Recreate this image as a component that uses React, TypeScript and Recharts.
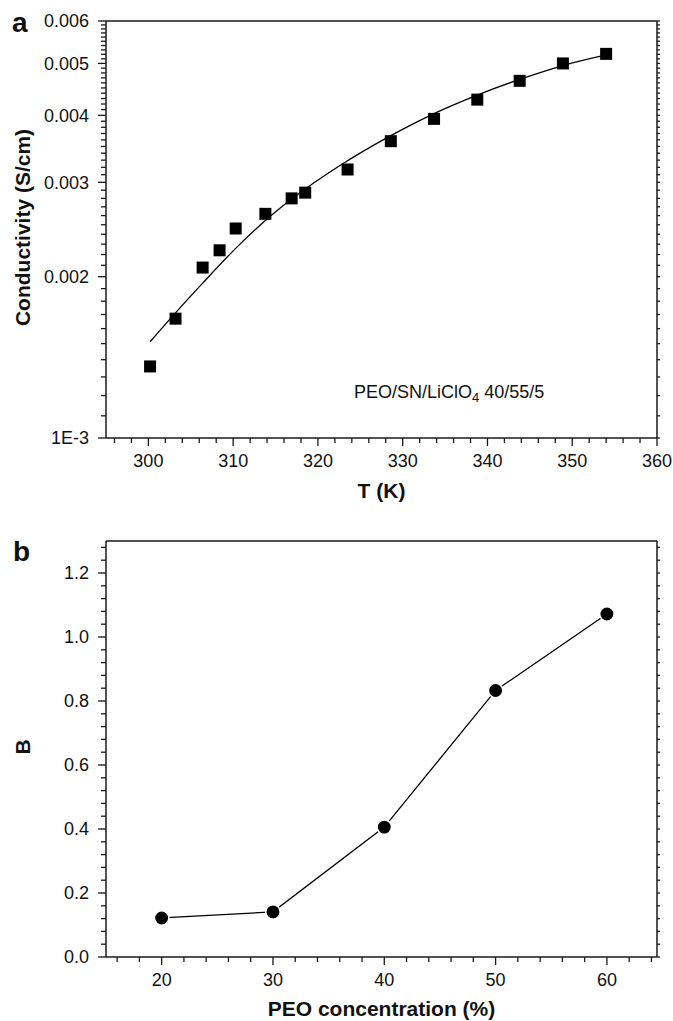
import React from 'react';
import { ScatterChart, Scatter, XAxis, YAxis, Label } from 'recharts';

const FONT = '"Liberation Sans", Arial, Helvetica, sans-serif';

// ---------- Panel a : conductivity vs temperature ----------
const tempPoints = [300.2, 303.2, 306.4, 308.4, 310.3, 313.8, 316.9, 318.5, 323.5, 328.6, 333.7, 338.8, 343.8, 348.9, 354.0];
const condPoints = [0.00136, 0.00167, 0.00208, 0.00224, 0.00246, 0.00262, 0.0028, 0.00287, 0.00317, 0.00358, 0.00394, 0.00428, 0.00464, 0.005, 0.00521];
const fitTemp = [300.2, 303.2, 306.4, 310.3, 314.0, 316.9, 322.6, 328.6, 333.7, 338.8, 343.8, 348.9, 354.0];
const fitCond = [0.001512, 0.001712, 0.001945, 0.002259, 0.002562, 0.002792, 0.003225, 0.003667, 0.004031, 0.004365, 0.004668, 0.004955, 0.005186];

const aXDomain = [295, 360];
const aXMajor = [300, 310, 320, 330, 340, 350, 360];
const aXLabels = ['300', '310', '320', '330', '340', '350', '360'];
const aXStep = 2;
const aYDomain = [0.001, 0.006];
const aYMajor = [0.001, 0.002, 0.003, 0.004, 0.005, 0.006];
const aYLabels = ['1E-3', '0.002', '0.003', '0.004', '0.005', '0.006'];
const aYStep = 0.0001;

// ---------- Panel b : B vs PEO concentration ----------
const peoConc = [20, 30, 40, 50, 60];
const bValues = [0.122, 0.141, 0.406, 0.833, 1.072];

const bXDomain = [15, 64.5];
const bXMajor = [20, 30, 40, 50, 60];
const bXLabels = ['20', '30', '40', '50', '60'];
const bXStep = 2;
const bYDomain = [0, 1.3];
const bYMajor = [0, 0.2, 0.4, 0.6, 0.8, 1.0, 1.2];
const bYLabels = ['0.0', '0.2', '0.4', '0.6', '0.8', '1.0', '1.2'];
const bYStep = 0.04;

// ---------- helpers ----------
const near = (a: number, b: number) => Math.abs(a - b) <= Math.abs(a) * 1e-6 + 1e-9;

function tickList(lo: number, hi: number, step: number, digits: number): number[] {
  const out: number[] = [];
  const n = Math.round((hi - lo) / step);
  for (let i = 0; i <= n; i++) out.push(+(lo + i * step).toFixed(digits));
  return out;
}

const aXTicks = tickList(296, 360, aXStep, 0);
const aYTicks = tickList(0.001, 0.006, aYStep, 4);
const bXTicks = tickList(16, 64, bXStep, 0);
const bYTicks = tickList(0, 1.28, bYStep, 2);

const pointsA = tempPoints.map((t, i) => ({ x: t, y: condPoints[i] }));
const fitA = fitTemp.map((t, i) => ({ x: t, y: fitCond[i] }));
const pointsB = peoConc.map((c, i) => ({ x: c, y: bValues[i] }));

const INK = '#111';
const TICK = '#1a1a1a';
const AXIS = { stroke: TICK, strokeWidth: 1.5 };
const TICKLINE = { stroke: TICK, strokeWidth: 1.3 };
const THIN = 0.001;
const MINOR_LEN = 5;
const MAJOR_LEN = 8;

function bottomTick(majors: number[], labels: string[]) {
  return (props: any) => {
    const { x, y, payload } = props;
    const idx = majors.findIndex((m) => near(m, payload.value));
    const major = idx >= 0;
    return (
      <g>
        <line x1={x} y1={y} x2={x} y2={y + (major ? MAJOR_LEN : MINOR_LEN)} stroke={TICK} strokeWidth={1.3} />
        {major && (
          <text x={x} y={y + 29} textAnchor="middle" fontSize={18} fontFamily={FONT} fill={INK}>
            {labels[idx]}
          </text>
        )}
      </g>
    );
  };
}

// Left axis: Recharts draws every tick line (MINOR_LEN); majors get an extension + label.
// Tick props x sits at the outer end of the built-in tick line.
function leftTick(majors: number[], labels: string[]) {
  return (props: any) => {
    const { x, y, payload } = props;
    const idx = majors.findIndex((m) => near(m, payload.value));
    if (idx < 0) return <g />;
    return (
      <g>
        <line x1={x - (MAJOR_LEN - MINOR_LEN)} y1={y} x2={x + 0.5} y2={y} stroke={TICK} strokeWidth={1.3} />
        <text x={x - 12} y={y} dy="0.36em" textAnchor="end" fontSize={18} fontFamily={FONT} fill={INK}>
          {labels[idx]}
        </text>
      </g>
    );
  };
}

const topTick = (props: any) => (
  <line x1={props.x} y1={props.y} x2={props.x} y2={props.y - 2} stroke={TICK} strokeWidth={1.3} />
);
const rightTick = (props: any) => (
  <line x1={props.x} y1={props.y} x2={props.x + 3} y2={props.y} stroke={TICK} strokeWidth={1.3} />
);

function xTitle(text: string, dy: number) {
  return (p: any) => {
    const vb = p.viewBox || { x: 106, y: 0, width: 551, height: 0 };
    return (
      <text x={vb.x + vb.width / 2} y={vb.y + dy} textAnchor="middle" fontSize={21} fontWeight="bold" fontFamily={FONT} fill={INK}>
        {text}
      </text>
    );
  };
}

function yTitle(text: string) {
  return (p: any) => {
    const vb = p.viewBox || { x: 0, y: 0, width: 106, height: 400 };
    const cx = 23;
    const cy = vb.y + vb.height / 2 - 2;
    return (
      <text x={cx} y={cy} transform={`rotate(-90 ${cx} ${cy})`} textAnchor="middle" dominantBaseline="central" fontSize={21} fontWeight="bold" fontFamily={FONT} fill={INK}>
        {text}
      </text>
    );
  };
}

const squareShape = (props: any) => <rect x={props.cx - 6} y={props.cy - 6} width={12} height={12} fill="#000" />;
const circleShape = (props: any) => (
  <circle cx={props.cx} cy={props.cy} r={7.2} fill="#000" stroke="#fff" strokeWidth={1.5} />
);
const noShape = () => <g />;

const common = { type: 'number' as const, allowDataOverflow: true, interval: 0 as const, tickMargin: 0 };
const noLine = { tickSize: 0, tickLine: false };
const leftLines = { tickSize: MINOR_LEN, tickLine: TICKLINE };

export default function App() {
  return (
    <div style={{ position: 'absolute', left: 0, top: 0, width: 673, height: 1021, background: '#fff' }}>
      <div style={{ position: 'absolute', left: 0, top: 0 }}>
        <ScatterChart width={673} height={508} margin={{ top: 21, right: 16, bottom: 0, left: 0 }}>
          <XAxis {...common} {...noLine} dataKey="x" domain={aXDomain} ticks={aXTicks} height={70} axisLine={AXIS} tick={bottomTick(aXMajor, aXLabels)}>
            <Label content={xTitle('T (K)', 60)} />
          </XAxis>
          <XAxis {...common} {...noLine} xAxisId="top" orientation="top" domain={aXDomain} ticks={aXTicks} height={THIN} axisLine={AXIS} tick={topTick} />
          <YAxis {...common} {...leftLines} dataKey="y" scale="log" domain={aYDomain} ticks={aYTicks} width={106} axisLine={AXIS} tick={leftTick(aYMajor, aYLabels)}>
            <Label content={yTitle('Conductivity (S/cm)')} />
          </YAxis>
          <YAxis {...common} {...noLine} yAxisId="right" orientation="right" scale="log" domain={aYDomain} ticks={aYTicks} width={THIN} axisLine={AXIS} tick={rightTick} />
          <Scatter data={fitA} line={{ stroke: '#000', strokeWidth: 1.3 }} lineJointType="monotoneX" shape={noShape} isAnimationActive={false} />
          <Scatter data={pointsA} shape={squareShape} isAnimationActive={false} />
        </ScatterChart>
      </div>

      <div style={{ position: 'absolute', left: 0, top: 500 }}>
        <ScatterChart width={673} height={521} margin={{ top: 41, right: 16, bottom: 0, left: 0 }}>
          <XAxis {...common} {...noLine} dataKey="x" domain={bXDomain} ticks={bXTicks} height={64} axisLine={AXIS} tick={bottomTick(bXMajor, bXLabels)}>
            <Label content={xTitle('PEO concentration (%)', 59)} />
          </XAxis>
          <XAxis {...common} {...noLine} xAxisId="top" orientation="top" domain={bXDomain} ticks={bXTicks} height={THIN} axisLine={AXIS} tick={topTick} />
          <YAxis {...common} {...leftLines} dataKey="y" domain={bYDomain} ticks={bYTicks} width={106} axisLine={AXIS} tick={leftTick(bYMajor, bYLabels)}>
            <Label content={yTitle('B')} />
          </YAxis>
          <YAxis {...common} {...noLine} yAxisId="right" orientation="right" domain={bYDomain} ticks={bYTicks} width={THIN} axisLine={AXIS} tick={rightTick} />
          <Scatter data={pointsB} line={{ stroke: '#000', strokeWidth: 1.3 }} lineJointType="linear" shape={circleShape} isAnimationActive={false} />
        </ScatterChart>
      </div>

      <svg width={673} height={1021} style={{ position: 'absolute', left: 0, top: 0, pointerEvents: 'none' }}>
        <text x={12} y={32} fontSize={28} fontWeight="bold" fontFamily={FONT} fill={INK}>a</text>
        <text x={13} y={561} fontSize={28} fontWeight="bold" fontFamily={FONT} fill={INK}>b</text>
        <text x={354} y={398} fontSize={18} fontFamily={FONT} fill={INK}>
          <tspan>PEO/SN/LiClO</tspan>
          <tspan fontSize={13} dy={4}>4</tspan>
          <tspan dy={-4}> 40/55/5</tspan>
        </text>
      </svg>
    </div>
  );
}
